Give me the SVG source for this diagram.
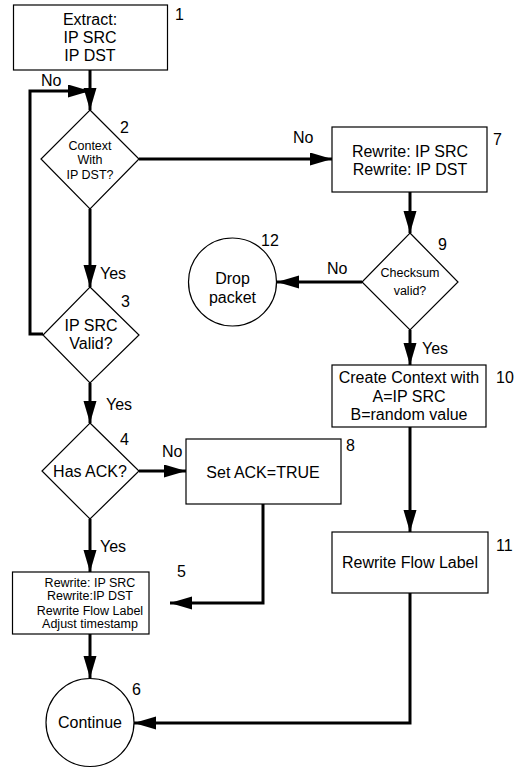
<svg xmlns="http://www.w3.org/2000/svg" width="525" height="769" viewBox="0 0 525 769">
<style>
.n{fill:#fff;stroke:#000;stroke-width:1.2}
.t{font-family:"Liberation Sans",Arial,sans-serif;font-size:16px;fill:#000;text-anchor:middle}
.s{font-size:12.5px}
.l{font-family:"Liberation Sans",Arial,sans-serif;font-size:16px;fill:#000}
.c{fill:none;stroke:#000;stroke-width:3;marker-end:url(#a)}
.p{fill:none;stroke:#000;stroke-width:3}
</style>
<defs>
<marker id="a" markerUnits="userSpaceOnUse" markerWidth="22" markerHeight="14" refX="22" refY="6.5" orient="auto">
<path d="M0,0 L22,6.5 L0,13 z" fill="#000"/>
</marker>
</defs>
<g id="connectors">
<path class="c" d="M90,70 V110"/>
<path class="c" d="M43,334 H30 V91 H90"/>
<path class="c" d="M139,159 H332"/>
<path class="c" d="M410,192 V233"/>
<path class="c" d="M362,282 H277"/>
<path class="c" d="M410,330 V365"/>
<path class="c" d="M410,427 V532"/>
<path class="c" d="M410,593 V723 H134"/>
<path class="c" d="M90,209 V287"/>
<path class="c" d="M90,383 V423"/>
<path class="c" d="M139,471 H186"/>
<path class="c" d="M90,519 V572"/>
<path class="c" d="M263,504 V603 H170"/>
<path class="c" d="M90,634 V678"/>
<text class="l" x="41" y="86">No</text>
<text class="l" x="293" y="143">No</text>
<text class="l" x="327" y="274">No</text>
<text class="l" x="422" y="354">Yes</text>
<text class="l" x="100" y="279">Yes</text>
<text class="l" x="106" y="410">Yes</text>
<text class="l" x="162" y="457">No</text>
<text class="l" x="100" y="552">Yes</text>
</g>
<g id="n1">
<rect class="n" x="13.5" y="5" width="154" height="65"/>
<text class="t" x="90" y="25">Extract:</text>
<text class="t" x="90" y="43">IP SRC</text>
<text class="t" x="90" y="61">IP DST</text>
<text class="l" x="175" y="20">1</text>
</g>
<g id="n2">
<path class="n" d="M90,110 L139,159 L90,209 L41,159 Z"/>
<text class="t s" x="90" y="150">Context</text>
<text class="t s" x="90" y="164">With</text>
<text class="t s" x="90" y="179">IP DST?</text>
<text class="l" x="120" y="133">2</text>
</g>
<g id="n3">
<path class="n" d="M90,287 L139,335 L90,383 L43,335 Z"/>
<text class="t" x="91" y="331">IP SRC</text>
<text class="t" x="91" y="349">Valid?</text>
<text class="l" x="121" y="307">3</text>
</g>
<g id="n4">
<path class="n" d="M90,423 L139,471 L90,519 L42,471 Z"/>
<text class="t" x="90" y="477">Has ACK?</text>
<text class="l" x="120" y="445">4</text>
</g>
<g id="n5">
<rect class="n" x="12.5" y="572" width="136.5" height="62"/>
<text class="t s" x="90" y="587">Rewrite: IP SRC</text>
<text class="t s" x="90" y="600">Rewrite:IP DST</text>
<text class="t s" x="90" y="615">Rewrite Flow Label</text>
<text class="t s" x="90" y="628">Adjust timestamp</text>
<text class="l" x="177" y="577">5</text>
</g>
<g id="n6">
<circle class="n" cx="90" cy="722.5" r="44"/>
<text class="t" x="90" y="728">Continue</text>
<text class="l" x="132" y="695">6</text>
</g>
<g id="n7">
<rect class="n" x="332" y="127" width="155" height="65"/>
<text class="t" x="410" y="157">Rewrite: IP SRC</text>
<text class="t" x="410" y="175">Rewrite: IP DST</text>
<text class="l" x="493" y="145">7</text>
</g>
<g id="n8">
<rect class="n" x="186" y="439" width="155" height="65"/>
<text class="t" x="263" y="478">Set ACK=TRUE</text>
<text class="l" x="346" y="451">8</text>
</g>
<g id="n9">
<path class="n" d="M410,233 L458,282 L410,330 L362,282 Z"/>
<text class="t s" x="410" y="277">Checksum</text>
<text class="t s" x="410" y="295">valid?</text>
<text class="l" x="438" y="250">9</text>
</g>
<g id="n10">
<rect class="n" x="332" y="365" width="154" height="62"/>
<text class="t" x="409" y="383">Create Context with</text>
<text class="t" x="409" y="402">A=IP SRC</text>
<text class="t" x="409" y="420">B=random value</text>
<text class="l" x="496" y="383">10</text>
</g>
<g id="n11">
<rect class="n" x="332" y="532" width="156" height="61"/>
<text class="t" x="410" y="568">Rewrite Flow Label</text>
<text class="l" x="496" y="551">11</text>
</g>
<g id="n12">
<circle class="n" cx="232.5" cy="282" r="44"/>
<text class="t" x="232.5" y="284">Drop</text>
<text class="t" x="232.5" y="303">packet</text>
<text class="l" x="261" y="246">12</text>
</g>
</svg>
